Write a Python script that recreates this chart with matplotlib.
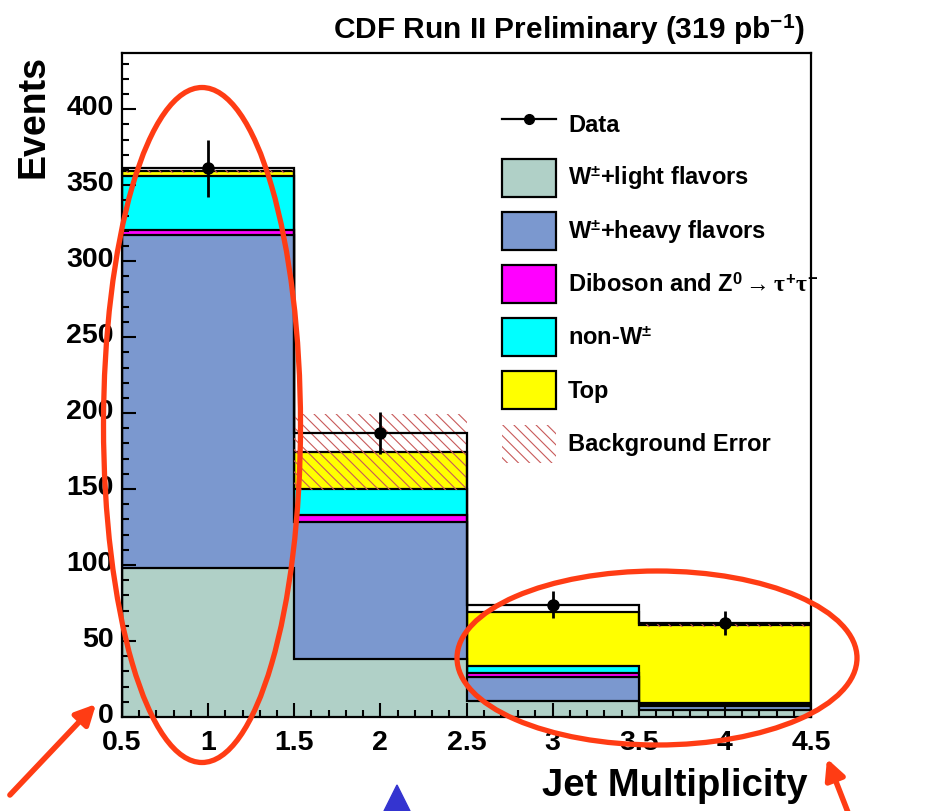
import numpy as np
import matplotlib
matplotlib.use("Agg")
import matplotlib.pyplot as plt
import matplotlib.transforms as mtransforms
from matplotlib.lines import Line2D
from matplotlib.patches import Patch, Ellipse, FancyArrowPatch, Polygon
from matplotlib.ticker import MultipleLocator, FormatStrFormatter

plt.rcParams['font.family'] = ['Liberation Sans', 'DejaVu Sans']
plt.rcParams['font.weight'] = 'bold'
plt.rcParams['mathtext.fontset'] = 'custom'
plt.rcParams['mathtext.rm'] = 'Liberation Sans:bold'
plt.rcParams['mathtext.bf'] = 'Liberation Sans:bold'
plt.rcParams['mathtext.it'] = 'Liberation Serif'
plt.rcParams['hatch.linewidth'] = 0.8

# Jet multiplicity bins
n_jets = [1, 2, 3, 4]
edges = [0.5, 1.5, 2.5, 3.5, 4.5]

# Stacked backgrounds (events per bin)
w_light = [98, 38, 10.5, 4.5]
w_heavy = [219.5, 90.5, 16.0, 2.5]
diboson = [3.3, 4.5, 2.5, 0.7]
non_w = [35.0, 17.0, 4.6, 1.8]
top = [3.5, 24.5, 35.4, 51.3]
bkg_err = [1, 25, 0, 1.5]

# Observed data
data = [361, 187, 74, 62]

labels = [r'W$^{\pm}$+light flavors', r'W$^{\pm}$+heavy flavors',
          r'Diboson and Z$^{0}$$\rightarrow\tau^{+}\tau^{-}$', r'non-W$^{\pm}$', 'Top']
colors = ['#b0d0c7', '#7b98cf', '#ff00ff', '#00ffff', '#ffff00']
hatch_color = '#c85a5a'

components = [w_light, w_heavy, diboson, non_w, top]
cum = np.cumsum(np.array(components, dtype=float), axis=0)
total = cum[-1]

fig = plt.figure(figsize=(9.43, 8.11), dpi=100)
ax = fig.add_axes([122/943, 1-717/811, (811-122)/943, (717-53)/811])

# ROOT-style stack: draw the sums from the top down
for i in range(len(components)-1, -1, -1):
    ax.stairs(cum[i], edges, baseline=0, fill=True, facecolor=colors[i],
              edgecolor='black', linewidth=1.6)

err = np.array(bkg_err, dtype=float)
ax.stairs(total + err, edges, baseline=total - err, fill=True, facecolor='none',
          edgecolor=hatch_color, hatch='\\\\\\', linewidth=0)

ax.stairs(data, edges, color='black', linewidth=1.6)
ax.errorbar(n_jets, data, yerr=np.sqrt(data), fmt='o', color='black',
            markersize=8, elinewidth=2, capsize=0)

ax.set_xlim(0.5, 4.5)
ax.set_ylim(0, 437)
ax.xaxis.set_major_locator(MultipleLocator(0.5))
ax.xaxis.set_minor_locator(MultipleLocator(0.1))
ax.yaxis.set_major_locator(MultipleLocator(50))
ax.yaxis.set_minor_locator(MultipleLocator(10))
ax.xaxis.set_major_formatter(FormatStrFormatter('%g'))
ax.tick_params(which='both', direction='in', width=1.5, labelsize=20.5)
ax.tick_params(which='major', length=10)
ax.tick_params(which='minor', length=5)
ax.tick_params(axis='x', pad=9)
ax.tick_params(axis='y', pad=6)
for lab in ax.get_xticklabels() + ax.get_yticklabels():
    lab.set_fontweight('bold')
# y labels sit a touch high, as in the original
shift = mtransforms.ScaledTranslation(0, 3/72, fig.dpi_scale_trans)
for lab in ax.get_yticklabels():
    lab.set_transform(lab.get_transform() + shift)
for s in ax.spines.values():
    s.set_linewidth(1.6)

handles = [Line2D([], [], color='black', marker='o', markersize=7, linewidth=1.6)]
handles += [Patch(facecolor=c, edgecolor='black', linewidth=1.6) for c in colors]
handles += [Patch(facecolor='none', edgecolor=hatch_color, hatch='\\\\\\', linewidth=0)]
leg = fig.legend(handles, ['Data'] + labels + ['Background Error'],
                 loc='upper left', bbox_to_anchor=(490/943, 1-94/811),
                 frameon=False, fontsize=17, borderpad=0, handlelength=2.3,
                 handleheight=2.1, labelspacing=0.64, handletextpad=0.5)
for t in leg.get_texts():
    t.set_fontweight('bold')

fig.text(805/943, 1-30/811, r'CDF Run II Preliminary (319 pb$^{-1}$)',
         ha='right', va='center', fontsize=21.5, fontweight='bold')
fig.text(34/943, 1-116/811, 'Events', rotation=90, ha='center', va='center',
         fontsize=27, fontweight='bold')
fig.text(808/943, 1-786/811, 'Jet Multiplicity', ha='right', va='center',
         fontsize=27.5, fontweight='bold')

# hand-drawn highlight marks
red = '#ff3c14'
fig.add_artist(Ellipse((202/943, 1-425/811), 197/943, 675/811, fill=False,
                       edgecolor=red, linewidth=3.8, transform=fig.transFigure))
fig.add_artist(Ellipse((657/943, 1-658/811), 400/943, 174/811, fill=False,
                       edgecolor=red, linewidth=3.8, transform=fig.transFigure))
fig.add_artist(FancyArrowPatch((8/943, 1-797/811), (98/943, 1-702/811),
                               transform=fig.transFigure, arrowstyle='-|>',
                               mutation_scale=30, linewidth=4, color=red))
fig.add_artist(FancyArrowPatch((849/943, 1-815/811), (826/943, 1-756/811),
                               transform=fig.transFigure, arrowstyle='-|>',
                               mutation_scale=30, linewidth=4, color=red))
fig.add_artist(Polygon([(384/943, 0), (410/943, 0), (397/943, 1-785/811)],
                       closed=True, color='#3434d0', transform=fig.transFigure))

fig.savefig('out.png', dpi=100)
